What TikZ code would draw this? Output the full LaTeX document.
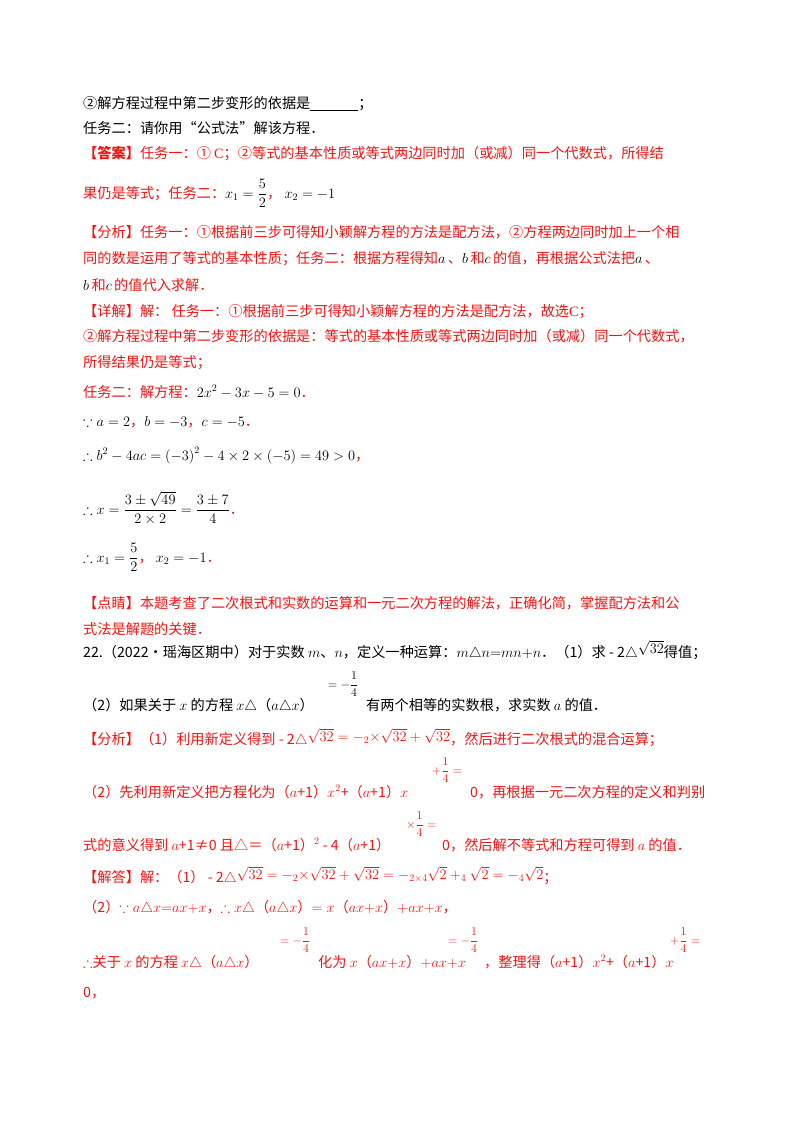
\documentclass[tikz,border=0pt]{standalone}
\usepackage{fontspec}
\usepackage{amsmath,amssymb}
\setmainfont{Noto Sans CJK SC}
\newfontfamily\lat{Liberation Serif}
\definecolor{rd}{RGB}{240,20,20}
\begin{document}
\begin{tikzpicture}[x=1pt,y=-1pt,
  ln/.style={anchor=base west,inner sep=0pt,font=\fontsize{14.2}{16}\selectfont},
  rl/.style={ln,text=rd},
  fr/.style={ln,font=\fontsize{12}{14}\selectfont}]
\useasboundingbox (0,0) rectangle (800,1132);
\node[ln] (l1) at (83,108) {②解方程过程中第二步变形的依据是\underline{\hspace{48pt}}；};
\node[ln] (l2) at (83,133) {任务二：请你用“公式法”解该方程．};
\node[rl] (l3) at (83,158) {\textbf{【答案】}任务一：① {\lat C}；②等式的基本性质或等式两边同时加（或减）同一个代数式，所得结};
\node[rl] (l4) at (83,198) {果仍是等式；任务二：\textcolor{black}{$x_1=\dfrac{5}{2}$}，\ \textcolor{black}{$x_2=-1$}};
\node[rl] (l5) at (83,237) {【分析】任务一：①根据前三步可得知小颖解方程的方法是配方法，②方程两边同时加上一个相};
\node[rl] (l6) at (83,263) {同的数是运用了等式的基本性质；任务二：根据方程得知\textcolor{black}{$a$}\,、\textcolor{black}{$b$}\,和\textcolor{black}{$c$}\,的值，再根据公式法把\textcolor{black}{$a$}\,、};
\node[rl] (l7) at (83,290) {\textcolor{black}{$b$}\,和\textcolor{black}{$c$}\,的值代入求解．};
\node[rl] (l8) at (83,316) {【详解】解：\ 任务一：①根据前三步可得知小颖解方程的方法是配方法，故选{\lat C}；};
\node[rl] (l9) at (83,341) {②解方程过程中第二步变形的依据是：等式的基本性质或等式两边同时加（或减）同一个代数式，};
\node[rl] (l10) at (83,367) {所得结果仍是等式；};
\node[rl] (l11) at (83,397) {任务二：解方程：\textcolor{black}{$2x^2-3x-5=0$}．};
\node[rl] (l12) at (83,426) {\textcolor{black}{$\because a=2$}，\textcolor{black}{$b=-3$}，\textcolor{black}{$c=-5$}．};
\node[rl] (l13) at (83,460) {\textcolor{black}{$\therefore b^2-4ac=\left(-3\right)^2-4\times2\times\left(-5\right)=49>0$}，};
\node[rl] (l14) at (83,514) {\textcolor{black}{$\therefore x=\dfrac{3\pm\sqrt{49}}{2\times2}=\dfrac{3\pm7}{4}$}．};
\node[rl] (l15) at (83,562) {\textcolor{black}{$\therefore x_1=\dfrac{5}{2}$}，\ \textcolor{black}{$x_2=-1$}．};
\node[rl] (l16) at (83,608) {【点睛】本题考查了二次根式和实数的运算和一元二次方程的解法，正确化简，掌握配方法和公};
\node[rl] (l17) at (83,634) {式法是解题的关键．};
\node[ln] (l18) at (83,657) {22.（2022•瑶海区期中）对于实数 $m$、$n$，定义一种运算：$m\triangle n{=}mn{+}n$．（1）求 - 2$\triangle$\raisebox{4pt}{$\sqrt{32}$}得值；};
\node[ln] (l19a) at (83,710) {（2）如果关于 $x$ 的方程 $x\triangle$（$a\triangle x$）};
\node[fr] (l19b) at (328,688) {$=-\dfrac{1}{4}$};
\node[ln] (l19c) at (366,710) {有两个相等的实数根，求实数 $a$ 的值．};
\node[rl] (l20) at (83,744) {【分析】（1）利用新定义得到 - 2$\triangle$\raisebox{3pt}{$\sqrt{32}=-_{2}{\times}\sqrt{32}+\sqrt{32}$}，然后进行二次根式的混合运算；};
\node[rl] (l21a) at (83,797) {（2）先利用新定义把方程化为（$a$+1）$x^2$+（$a$+1）$x$};
\node[fr,text=rd] (l21b) at (432,774) {$+\dfrac{1}{4}=$};
\node[rl] (l21c) at (470,797) {0，再根据一元二次方程的定义和判别};
\node[rl] (l22a) at (83,850) {式的意义得到 $a$+1≠0 且△＝（$a$+1）$^{2}$ - 4（$a$+1）};
\node[fr,text=rd] (l22b) at (406,828) {$\times\dfrac{1}{4}=$};
\node[rl] (l22c) at (442,850) {0，然后解不等式和方程可得到 $a$ 的值．};
\node[rl] (l23) at (83,882) {【解答】解：（1） - 2$\triangle$\raisebox{3pt}{$\sqrt{32}=-_{2}{\times}\sqrt{32}+\sqrt{32}=-_{2\times4}\sqrt2+_4\sqrt2=-_4\sqrt2$}；};
\node[rl] (l24) at (83,912) {（2）$\because a\triangle x{=}ax{+}x$，$\therefore x\triangle$（$a\triangle x$）$=x$（$ax{+}x$）$+ax{+}x$，};
\node[rl] (l25a) at (83,967) {$\therefore$关于 $x$ 的方程 $x\triangle$（$a\triangle x$）};
\node[fr,text=rd] (l25b) at (280,944) {$=-\dfrac{1}{4}$};
\node[rl] (l25c) at (318,967) {化为 $x$（$ax{+}x$）$+ax{+}x$};
\node[fr,text=rd] (l25d) at (448,944) {$=-\dfrac{1}{4}$};
\node[rl] (l25e) at (484,967) {，整理得（$a$+1）$x^2$+（$a$+1）$x$};
\node[fr,text=rd] (l25f) at (670,944) {$+\dfrac{1}{4}=$};
\node[rl] (l26) at (83,997) {0，};
\end{tikzpicture}
\end{document}
